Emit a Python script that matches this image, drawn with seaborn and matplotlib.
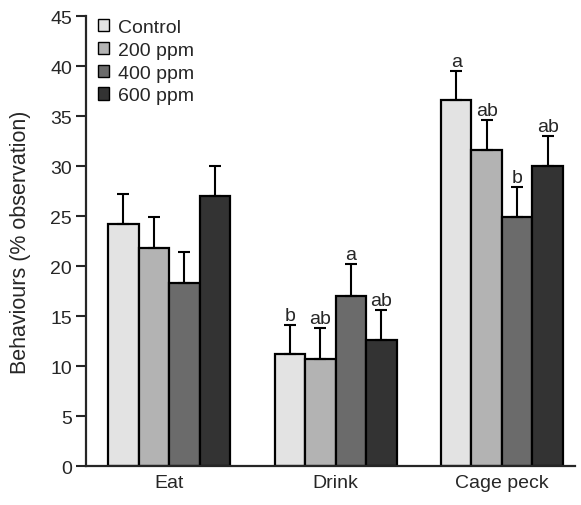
import matplotlib
matplotlib.use("Agg")
import matplotlib.pyplot as plt
import seaborn as sns
import pandas as pd
import numpy as np
from matplotlib.patches import Patch

categories = ["Eat", "Drink", "Cage peck"]
treatments = ["Control", "200 ppm", "400 ppm", "600 ppm"]
means = {
    "Control": [24.2, 11.2, 36.6],
    "200 ppm": [21.8, 10.7, 31.6],
    "400 ppm": [18.3, 17.0, 24.9],
    "600 ppm": [27.0, 12.6, 30.0],
}
errors = {
    "Control": [3.0, 2.9, 2.9],
    "200 ppm": [3.1, 3.1, 3.0],
    "400 ppm": [3.1, 3.2, 3.0],
    "600 ppm": [3.0, 3.0, 3.0],
}
letters = {
    "Control": ["", "b", "a"],
    "200 ppm": ["", "ab", "ab"],
    "400 ppm": ["", "a", "b"],
    "600 ppm": ["", "ab", "ab"],
}
colors = ["#e3e3e3", "#b3b3b3", "#6b6b6b", "#333333"]
yticks = [0, 5, 10, 15, 20, 25, 30, 35, 40, 45]

sns.set_style("ticks")
plt.rcParams["font.family"] = ["Liberation Sans", "DejaVu Sans"]

rows = []
for t in treatments:
    for c, m in zip(categories, means[t]):
        rows.append({"Behaviour": c, "Treatment": t, "Value": m})
df = pd.DataFrame(rows)

fig = plt.figure(figsize=(5.81, 5.06), dpi=100)
ax = fig.add_axes([0.148, 0.077, 0.842, 0.889])

sns.barplot(data=df, x="Behaviour", y="Value", hue="Treatment",
            hue_order=treatments, order=categories, palette=colors,
            width=0.733, edgecolor="black", linewidth=1.6, errorbar=None,
            legend=False, ax=ax)

# error bars and letters
for i, t in enumerate(treatments):
    cont = ax.containers[i]
    for j, bar in enumerate(cont):
        x = bar.get_x() + bar.get_width() / 2
        h = bar.get_height()
        e = errors[t][j]
        ax.errorbar(x, h, yerr=[[0], [e]], fmt="none", ecolor="black",
                    elinewidth=1.5, capsize=4, capthick=1.5, zorder=3)
        if letters[t][j]:
            ax.text(x, h + e + 0.15, letters[t][j], ha="center", va="bottom",
                    fontsize=14)

ax.set_ylim(0, 45)
ax.set_xlim(-0.5, 2.44)
ax.set_yticks(yticks)
ax.set_yticklabels([str(v) for v in yticks], fontsize=14)
ax.tick_params(axis="y", length=7, width=1.5, direction="out", pad=3)
ax.tick_params(axis="x", length=0, labelsize=14, pad=6)
ax.set_xlabel("")
ax.set_ylabel("Behaviours (% observation)", fontsize=15.5, labelpad=14)
sns.despine(ax=ax)
ax.spines["left"].set_linewidth(1.6)
ax.spines["bottom"].set_linewidth(1.6)

handles = [Patch(facecolor=c, edgecolor="black", linewidth=1.0) for c in colors]
ax.legend(handles, treatments, loc="upper left", bbox_to_anchor=(0.0, 1.02),
          frameon=False, fontsize=14, handlelength=0.6, handleheight=0.6,
          handletextpad=0.45, labelspacing=0.3, borderaxespad=0.2)

fig.savefig("out.png", dpi=100)
